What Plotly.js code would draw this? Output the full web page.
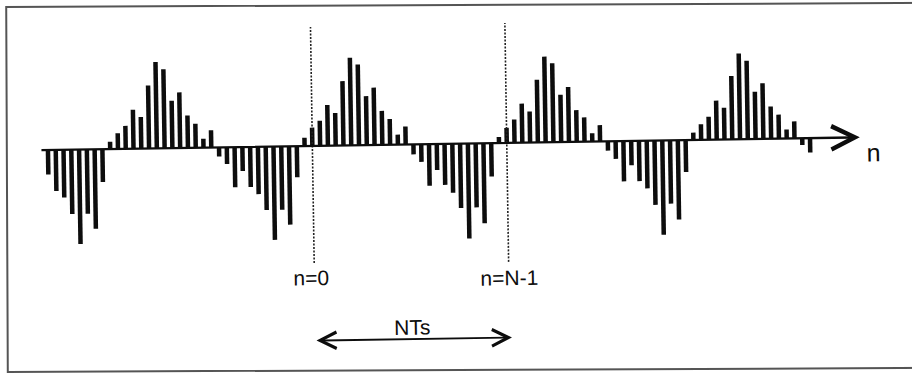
<!DOCTYPE html>
<html>
<head>
<meta charset="utf-8">
<script src="https://cdn.plot.ly/plotly-3.0.1.min.js"></script>
<style>
  html, body { margin: 0; padding: 0; width: 912px; height: 374px; overflow: hidden; background: #ffffff; }
  #frame {
    position: absolute; left: 6px; top: 4px; width: 940px; height: 367px;
    border: 2px solid #555555; box-sizing: border-box;
    transform: rotate(-0.25deg); transform-origin: 450px 183px;
  }
  #chart {
    position: absolute; left: 0; top: 0; width: 912px; height: 374px;
    transform: rotate(-0.9deg); transform-origin: 456px 187px;
  }
</style>
</head>
<body>
<div id="frame"></div>
<div id="chart"></div>
<script>
// Sample amplitudes (arbitrary units), cycle by cycle
const cycle1Neg = [-73, -123, -143, -193, -283, -193, -238, -98];          // partial (tail)
const cycle1Pos = [22, 47, 69, 117, 95, 189, 259, 237, 142, 167, 97, 72, 27, 52];
const cycle2Neg = [-27, -50, -120, -72, -120, -142, -190, -280, -190, -235, -93];
const cycle2Pos = [25, 55, 75, 122, 98, 193, 263, 242, 147, 172, 102, 77, 30, 54];
const cycle3Neg = [-30, -53, -125, -78, -123, -147, -193, -285, -192, -240, -100];
const cycle3Pos = [18, 45, 70, 117, 93, 188, 257, 237, 142, 165, 95, 73, 25, 49];
const cycle4Neg = [-28, -53, -121, -73, -121, -143, -193, -283, -190, -238, -96];
const cycle4Pos = [22, 47, 69, 117, 95, 190, 257, 235, 142, 167, 97, 72, 27, 51];
const cycle5Neg = [-20, -43];                                               // partial (head)

// Marker sample indices and labels
const nZeroIndex = 34;
const nLastIndex = 59;
const labelZero = 'n=0';
const labelLast = 'n=N-1';
const labelPeriod = 'NTs';
const labelAxis = 'n';

const samples = [].concat(cycle1Neg, cycle1Pos, cycle2Neg, cycle2Pos,
                          cycle3Neg, cycle3Pos, cycle4Neg, cycle4Pos, cycle5Neg);
const idx = samples.map((_, i) => i);

const ink = '#0d0d0d';
const textFont = { family: 'Liberation Sans, Arial, sans-serif', size: 21, color: ink };

const trace = {
  type: 'bar',
  x: idx,
  y: samples,
  width: 0.58,
  marker: { color: ink, line: { width: 0 } },
  hoverinfo: 'none'
};

const dotted = { color: '#222', width: 1.6, dash: '2px,1.5px' };

const layout = {
  width: 912, height: 374,
  margin: { l: 0, r: 0, t: 0, b: 0 },
  paper_bgcolor: 'rgba(0,0,0,0)',
  plot_bgcolor: 'rgba(0,0,0,0)',
  showlegend: false,
  xaxis: { range: [-6.249, 111.02], visible: false, fixedrange: true },
  yaxis: { range: [-690.9, 431.1], visible: false, fixedrange: true },
  shapes: [
    { type: 'line', xref: 'x', yref: 'y', x0: nZeroIndex, x1: nZeroIndex, y0: -351, y1: 357, line: dotted },
    { type: 'line', xref: 'x', yref: 'y', x0: nLastIndex, x1: nLastIndex, y0: -357, y1: 360, line: dotted }
  ],
  annotations: [
    // horizontal n-axis with open arrowhead
    { x: 104.4, y: 0, ax: -1.03, ay: 0, xref: 'x', yref: 'y', axref: 'x', ayref: 'y',
      text: '', showarrow: true, arrowhead: 5, arrowsize: 2, arrowwidth: 2.3,
      arrowcolor: ink, standoff: 0 },
    { x: 106.07, y: -47, xref: 'x', yref: 'y', text: labelAxis, showarrow: false,
      font: { family: textFont.family, size: 25, color: ink } },
    { x: 33.56, y: -396, xref: 'x', yref: 'y', text: labelZero, showarrow: false, font: textFont },
    { x: 59.02, y: -405, xref: 'x', yref: 'y', text: labelLast, showarrow: false, font: textFont },
    { x: 46.44, y: -548, xref: 'x', yref: 'y', text: labelPeriod, showarrow: false, font: textFont },
    // double-headed arrow spanning one period
    { x: 59.28, y: -584, ax: 33.95, ay: -584, xref: 'x', yref: 'y', axref: 'x', ayref: 'y',
      text: '', showarrow: true, arrowside: 'end+start',
      arrowhead: 5, startarrowhead: 5, arrowsize: 1.8, startarrowsize: 1.8,
      arrowwidth: 1.8, arrowcolor: ink, standoff: 0, startstandoff: 0 }
  ]
};

Plotly.newPlot('chart', [trace], layout, { staticPlot: true, displayModeBar: false });
</script>
</body>
</html>
